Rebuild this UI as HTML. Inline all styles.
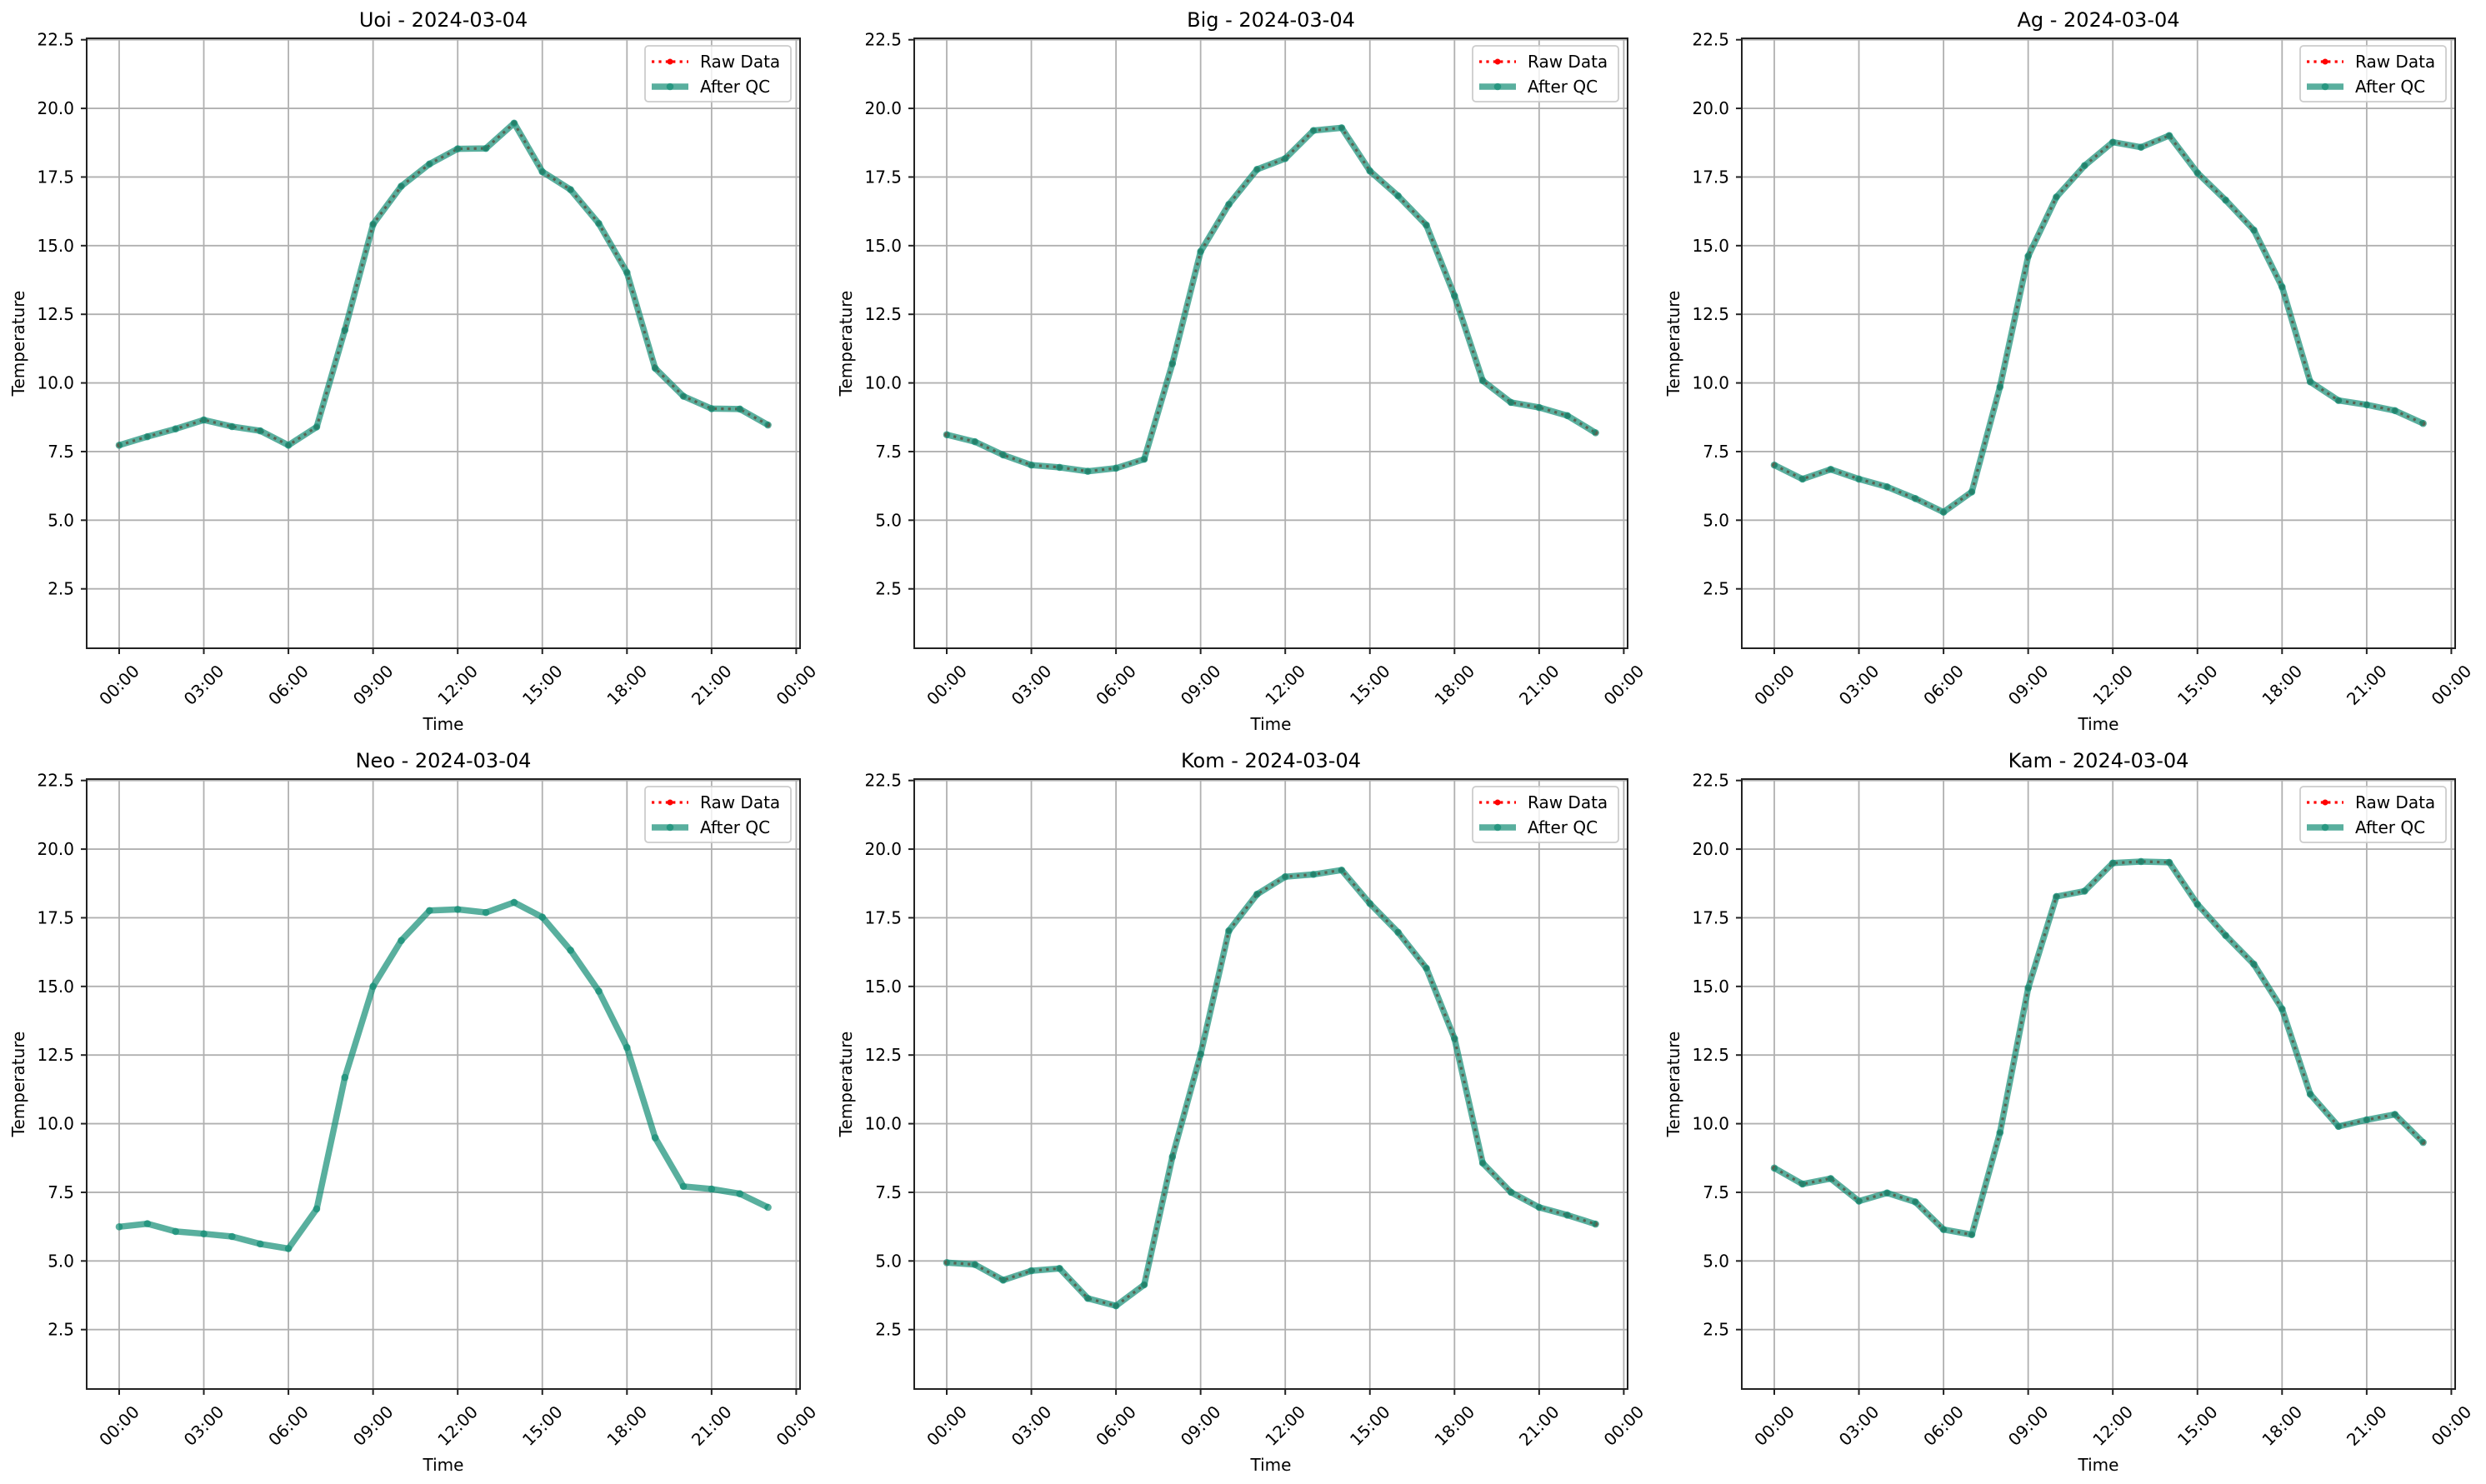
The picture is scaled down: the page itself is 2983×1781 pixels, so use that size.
<!DOCTYPE html>
<html><head><meta charset="utf-8"><style>
html,body{margin:0;padding:0;background:#fff;}
svg{display:block;}
text{font-family:"DejaVu Sans","Liberation Sans",sans-serif;fill:#000;}
</style></head><body>
<svg id="s" xmlns="http://www.w3.org/2000/svg" width="2983" height="1781" viewBox="0 0 2983 1781"></svg>
<script>
const panels=[
{n:"Uoi",x:104,y:46,raw:true,d:[1046,1024,1004,981,998,1009,1046,999,750,478,380,323,284,283,218,343,389,476,602,848,920,952,953,994]},
{n:"Big",x:1097,y:46,raw:true,d:[1019,1037,1071,1097,1103,1113,1105,1082,836,548,427,337,309,237,230,341,405,480,662,880,936,949,970,1014]},
{n:"Ag",x:2090,y:46,raw:true,d:[1097,1133,1108,1133,1153,1183,1218,1166,896,560,408,327,267,280,250,346,416,493,639,883,931,942,957,990]},
{n:"Neo",x:104,y:935,raw:false,d:[1151,1143,1163,1169,1176,1195,1207,1105,767,533,415,338,335,343,317,355,440,545,690,922,1047,1054,1066,1101]},
{n:"Kom",x:1097,y:935,raw:true,d:[1243,1248,1288,1264,1258,1335,1354,1300,971,707,390,296,251,245,234,320,394,486,667,987,1062,1101,1121,1144]},
{n:"Kam",x:2090,y:935,raw:true,d:[1000,1041,1027,1085,1064,1087,1158,1171,909,537,302,288,216,212,214,322,402,476,591,810,893,876,862,934]}
];
const W=856,H=732,PX=33.85,X0=39;
const vy=v=>1.7+(22.5-v)*32.95;
let o="";
for(const p of panels){
  o+=`<g transform="translate(${p.x},${p.y})">`;
  for(let h=0;h<=24;h+=3){const x=X0+h*PX;o+=`<line x1="${x}" y1="0" x2="${x}" y2="${H}" stroke="#b0b0b0" stroke-width="1.8"/>`;}
  for(let v=2.5;v<=22.5;v+=2.5){const y=vy(v);o+=`<line x1="0" y1="${y}" x2="${W}" y2="${y}" stroke="#b0b0b0" stroke-width="1.8"/>`;}
  const pts=p.d.map((zy,i)=>[X0+i*PX,zy*H/1568]);
  const ps=pts.map(a=>a[0].toFixed(1)+","+a[1].toFixed(1)).join(" ");
  if(p.raw){
    o+=`<polyline points="${ps}" fill="none" stroke="#ff0000" stroke-width="3.2" stroke-dasharray="3.2 5.2"/>`;
    for(const a of pts)o+=`<circle cx="${a[0]}" cy="${a[1]}" r="3" fill="#ff0000"/>`;
  }
  o+=`<polyline points="${ps}" fill="none" stroke="rgba(19,141,117,0.7)" stroke-width="7.5" stroke-linejoin="round"/>`;
  for(const a of pts)o+=`<circle cx="${a[0]}" cy="${a[1]}" r="4.3" fill="rgba(19,141,117,0.7)"/>`;
  o+=`<rect x="0" y="0" width="${W}" height="${H}" fill="none" stroke="#222" stroke-width="2"/>`;
  for(let v=2.5;v<=22.5;v+=2.5){const y=vy(v);o+=`<line x1="-7" y1="${y}" x2="0" y2="${y}" stroke="#222" stroke-width="2"/><text x="-15" y="${y+7}" font-size="20" text-anchor="end">${v.toFixed(1)}</text>`;}
  for(let h=0;h<=24;h+=3){const x=X0+h*PX;const lab=String(h%24).padStart(2,"0")+":00";
    o+=`<line x1="${x}" y1="${H}" x2="${x}" y2="${H+7}" stroke="#222" stroke-width="2"/>`;
    o+=`<text transform="translate(${x},${H+44}) rotate(-45)" font-size="20" text-anchor="middle" dy="7">${lab}</text>`;}
  o+=`<text x="${W/2}" y="${H+98}" font-size="20" text-anchor="middle">Time</text>`;
  o+=`<text transform="translate(-75,${H/2}) rotate(-90)" font-size="20" text-anchor="middle">Temperature</text>`;
  o+=`<text x="${W/2}" y="-14" font-size="24" text-anchor="middle">${p.n} - 2024-03-04</text>`;
  o+=`<rect x="670" y="9" width="175" height="67" rx="4" fill="rgba(255,255,255,0.8)" stroke="#cccccc" stroke-width="1.8"/>`;
  o+=`<line x1="678" y1="28" x2="722" y2="28" stroke="#ff0000" stroke-width="3.2" stroke-dasharray="3.2 5.2"/><circle cx="700" cy="28" r="3.5" fill="#ff0000"/>`;
  o+=`<text x="736" y="35" font-size="20">Raw Data</text>`;
  o+=`<line x1="678" y1="58" x2="722" y2="58" stroke="rgba(19,141,117,0.7)" stroke-width="7.5"/><circle cx="700" cy="58" r="4.3" fill="rgba(19,141,117,0.7)"/>`;
  o+=`<text x="736" y="65" font-size="20">After QC</text>`;
  o+="</g>";
}
document.getElementById("s").innerHTML=o;
</script>
</body></html>
